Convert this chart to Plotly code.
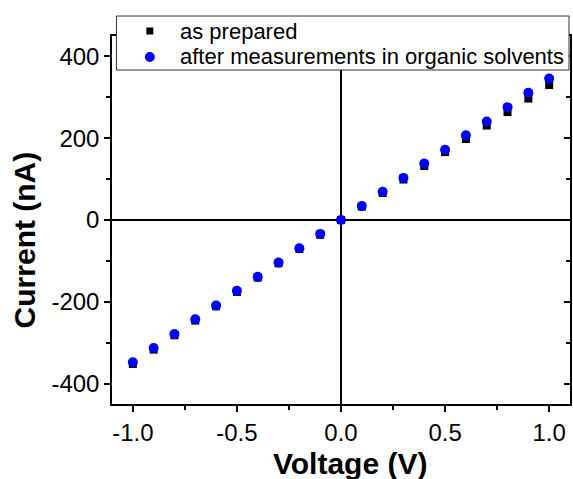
import plotly.graph_objects as go

# I-V sweep, -1.0 V to 1.0 V in 0.1 V steps
voltage = [-1.0, -0.9, -0.8, -0.7, -0.6, -0.5, -0.4, -0.3, -0.2, -0.1, 0.0,
           0.1, 0.2, 0.3, 0.4, 0.5, 0.6, 0.7, 0.8, 0.9, 1.0]
current_as_prepared = [-352, -317, -282, -246, -211, -176, -141, -106, -71, -36, 0,
                       33, 66, 99, 132, 166, 198, 231, 264, 297, 330]
current_after_solvents = [-348, -313, -279, -243, -209, -173, -139, -104, -69, -34, 0,
                          34, 69, 103, 138, 172, 207, 241, 276, 311, 346]

series_names = ["as prepared", "after measurements in organic solvents"]

x_tick_vals = [-1.0, -0.5, 0.0, 0.5, 1.0]
x_tick_text = ["-1.0", "-0.5", "0.0", "0.5", "1.0"]
y_tick_vals = [-400, -200, 0, 200, 400]
y_tick_text = ["-400", "-200", "0", "200", "400"]

FONT = "Liberation Sans, Arial, sans-serif"
W, H = 573, 479
M_L, M_R, M_T, M_B = 112, 1, 36, 75
PLOT_W = W - M_L - M_R
PLOT_H = H - M_T - M_B


def px_x(px):
    """pixel column -> paper x"""
    return (px - M_L) / PLOT_W


def px_y(py):
    """pixel row -> paper y"""
    return (H - M_B - py) / PLOT_H


fig = go.Figure()
fig.add_trace(go.Scatter(
    x=voltage, y=current_as_prepared, mode="markers", name=series_names[0],
    marker=dict(symbol="square", size=8, color="black"),
))
fig.add_trace(go.Scatter(
    x=voltage, y=current_after_solvents, mode="markers", name=series_names[1],
    marker=dict(symbol="circle", size=10, color="#0000ff"),
))
# invisible trace carrying the inward ticks of the right-hand axis
fig.add_trace(go.Scatter(x=[None], y=[None], yaxis="y2", showlegend=False,
                         hoverinfo="skip"))

axis_common = dict(
    showgrid=False,
    showline=True, linecolor="black", linewidth=1.5,
    ticks="outside", ticklen=6, tickwidth=1.5, tickcolor="black",
    tickfont=dict(family=FONT, size=24, color="black"),
    zeroline=True, zerolinecolor="black", zerolinewidth=2,
)

# boxed legend in the upper part of the frame
legend_shapes = [
    dict(type="rect", xref="paper", yref="paper", layer="above",
         x0=px_x(116.5), x1=px_x(571), y0=px_y(70), y1=px_y(16),
         fillcolor="white", line=dict(color="#333333", width=1)),
    dict(type="rect", xref="paper", yref="paper", layer="above",
         x0=px_x(146.5), x1=px_x(153.5), y0=px_y(34.5), y1=px_y(27.5),
         fillcolor="black", line=dict(width=0)),
    dict(type="circle", xref="paper", yref="paper", layer="above",
         x0=px_x(145), x1=px_x(155), y0=px_y(62), y1=px_y(52),
         fillcolor="#0000ff", line=dict(width=0)),
]
legend_labels = [
    dict(text=series_names[0], xref="paper", yref="paper",
         x=px_x(178), y=px_y(31), xanchor="left", yanchor="middle",
         showarrow=False, font=dict(family=FONT, size=22, color="black")),
    dict(text=series_names[1], xref="paper", yref="paper",
         x=px_x(178), y=px_y(57), xanchor="left", yanchor="middle",
         showarrow=False, font=dict(family=FONT, size=22, color="black")),
]

fig.update_layout(
    width=W, height=H,
    margin=dict(l=M_L, r=M_R, t=M_T, b=M_B),
    paper_bgcolor="white", plot_bgcolor="white",
    font=dict(family=FONT, color="black"),
    showlegend=False,
    xaxis=dict(
        **axis_common,
        range=[-1.1, 1.1], mirror=True,
        tickmode="array", tickvals=x_tick_vals, ticktext=x_tick_text,
        minor=dict(dtick=0.25, tick0=0, ticks="outside", ticklen=4,
                   tickwidth=1.5, tickcolor="black"),
    ),
    yaxis=dict(
        **axis_common,
        range=[-450, 450], mirror=True,
        tickmode="array", tickvals=y_tick_vals, ticktext=y_tick_text,
        minor=dict(dtick=100, tick0=0, ticks="outside", ticklen=4,
                   tickwidth=1.5, tickcolor="black"),
    ),
    yaxis2=dict(
        overlaying="y", side="right", range=[-450, 450],
        showgrid=False, zeroline=False, showline=False,
        showticklabels=False,
        ticks="inside", ticklen=6, tickwidth=1.5, tickcolor="black",
        tickmode="array", tickvals=y_tick_vals,
        minor=dict(dtick=100, tick0=0, ticks="inside", ticklen=4,
                   tickwidth=1.5, tickcolor="black"),
    ),
    shapes=legend_shapes,
    annotations=legend_labels + [
        dict(text="<b>Voltage (V)</b>", xref="paper", yref="paper",
             x=px_x(351), y=px_y(463),
             xanchor="center", yanchor="middle", showarrow=False,
             font=dict(family=FONT, size=30, color="black")),
        dict(text="<b>Current (nA)</b>", xref="paper", yref="paper",
             x=px_x(24), y=px_y(240), textangle=-90,
             xanchor="center", yanchor="middle", showarrow=False,
             font=dict(family=FONT, size=30, color="black")),
    ],
)

fig.write_html("out.html")
